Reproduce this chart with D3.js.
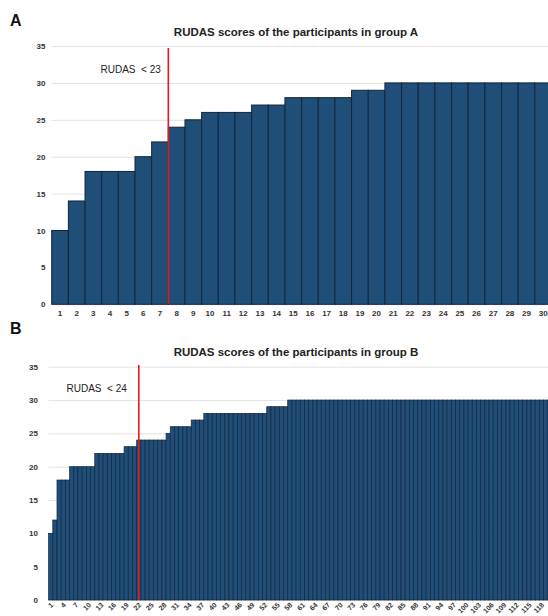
<!DOCTYPE html>
<html>
<head>
<meta charset="utf-8">
<script src="https://cdn.jsdelivr.net/npm/d3@7/dist/d3.min.js"></script>
<style>
  html, body { margin: 0; padding: 0; background: #fff; }
  svg { display: block; font-family: "Liberation Sans", Arial, sans-serif; }
</style>
</head>
<body>
<svg id="chart" width="548" height="616"></svg>
<script>
// RUDAS scores, sorted ascending, one bar per participant
const scoresA = [10, 14, 18, 18, 18, 20, 22, 24, 25, 26,
                 26, 26, 27, 27, 28, 28, 28, 28, 29, 29,
                 30, 30, 30, 30, 30, 30, 30, 30, 30, 30];

const scoresB = [10, 12, 18, 18, 18, 20, 20, 20, 20, 20,
                 20, 22, 22, 22, 22, 22, 22, 22, 23, 23,
                 23, 24, 24, 24, 24, 24, 24, 24, 25, 26,
                 26, 26, 26, 26, 27, 27, 27, 28, 28, 28,
                 28, 28, 28, 28, 28, 28, 28, 28, 28, 28,
                 28, 28, 29, 29, 29, 29, 29, 30, 30, 30,
                 30, 30, 30, 30, 30, 30, 30, 30, 30, 30,
                 30, 30, 30, 30, 30, 30, 30, 30, 30, 30,
                 30, 30, 30, 30, 30, 30, 30, 30, 30, 30,
                 30, 30, 30, 30, 30, 30, 30, 30, 30, 30,
                 30, 30, 30, 30, 30, 30, 30, 30, 30, 30,
                 30, 30, 30, 30, 30, 30, 30, 30, 30, 30];

const yTicks = [0, 5, 10, 15, 20, 25, 30, 35];
const cutoffA = { label: "RUDAS  < 23", after: 7 };
const cutoffB = { label: "RUDAS  < 24", at: 22 };

const svg = d3.select("#chart");
const W = 548;
const barFill = "#1f4e79";
const barStroke = "#13263c";

function panel(opts) {
  const g = svg.append("g");
  const ids = opts.data.map((d, i) => i + 1);
  const x = d3.scaleBand().domain(ids).range([opts.x0, opts.x1]).padding(0);
  const y = d3.scaleLinear().domain([0, 35]).range([opts.y0, opts.y1]);

  // panel letter and title
  g.append("text").attr("x", opts.letterX).attr("y", opts.letterY)
    .attr("font-size", 16).attr("font-weight", "bold").attr("fill", "#111")
    .text(opts.letter);
  g.append("text").attr("x", 296).attr("y", opts.titleY)
    .attr("text-anchor", "middle").attr("font-size", 11.5).attr("font-weight", "bold")
    .attr("fill", "#222").text(opts.title);

  // horizontal gridlines
  g.append("g").selectAll("line").data(yTicks).join("line")
    .attr("x1", opts.x0).attr("x2", W)
    .attr("y1", d => y(d) + 0.5).attr("y2", d => y(d) + 0.5)
    .attr("stroke", "#e3e3e3").attr("stroke-width", 1);

  // y tick labels
  g.append("g").selectAll("text").data(yTicks).join("text")
    .attr("x", opts.yLabelX).attr("y", d => y(d) + 3)
    .attr("text-anchor", "end").attr("font-size", 8).attr("font-weight", "bold")
    .attr("fill", "#333").text(d => d);

  // bars
  g.append("g").selectAll("rect").data(opts.data).join("rect")
    .attr("x", (d, i) => x(i + 1))
    .attr("y", d => y(d))
    .attr("width", x.bandwidth())
    .attr("height", d => y(0) - y(d))
    .attr("fill", barFill)
    .attr("stroke", barStroke)
    .attr("stroke-width", opts.strokeW);

  // x tick labels
  const shown = ids.filter(opts.tickFilter);
  const xl = g.append("g").selectAll("text").data(shown).join("text")
    .attr("font-size", opts.xFont).attr("font-weight", "bold").attr("fill", "#333")
    .text(d => d);
  if (opts.rotate) {
    xl.attr("text-anchor", "end")
      .attr("transform", d => `translate(${x(d) + x.bandwidth() / 2 + 3},${opts.xLabelY}) rotate(-45)`);
  } else {
    xl.attr("text-anchor", "middle")
      .attr("x", d => x(d) + x.bandwidth() / 2).attr("y", opts.xLabelY);
  }

  // cutoff line and label
  const cx = opts.cutoff.after != null
    ? x(opts.cutoff.after) + x.bandwidth()
    : x(opts.cutoff.at) + x.bandwidth() / 2;
  g.append("line").attr("x1", cx).attr("x2", cx)
    .attr("y1", opts.lineTop).attr("y2", y(0))
    .attr("stroke", "#e41a1a").attr("stroke-width", 1.6);
  g.append("text").attr("x", cx - opts.cutGap).attr("y", opts.cutLabelY)
    .attr("text-anchor", "end").attr("font-size", 10).attr("fill", "#222")
    .attr("xml:space", "preserve").style("white-space", "pre")
    .text(opts.cutoff.label);
}

panel({
  data: scoresA, letter: "A", letterX: 10, letterY: 26,
  title: "RUDAS scores of the participants in group A", titleY: 36,
  x0: 51.7, x1: 51.7 + 30 * 16.66, y0: 304.3, y1: 46,
  yLabelX: 45.5, strokeW: 1, xFont: 8, xLabelY: 316, rotate: false,
  tickFilter: () => true,
  cutoff: cutoffA, lineTop: 48, cutLabelY: 73, cutGap: 7.5
});

panel({
  data: scoresB, letter: "B", letterX: 10, letterY: 334,
  title: "RUDAS scores of the participants in group B", titleY: 356,
  x0: 48.6, x1: 48.6 + 120 * 4.195, y0: 600, y1: 366.7,
  yLabelX: 38, strokeW: 0.7, xFont: 7, xLabelY: 605.5, rotate: true,
  tickFilter: d => (d - 1) % 3 === 0,
  cutoff: cutoffB, lineTop: 365, cutLabelY: 392, cutGap: 12
});
</script>
</body>
</html>
